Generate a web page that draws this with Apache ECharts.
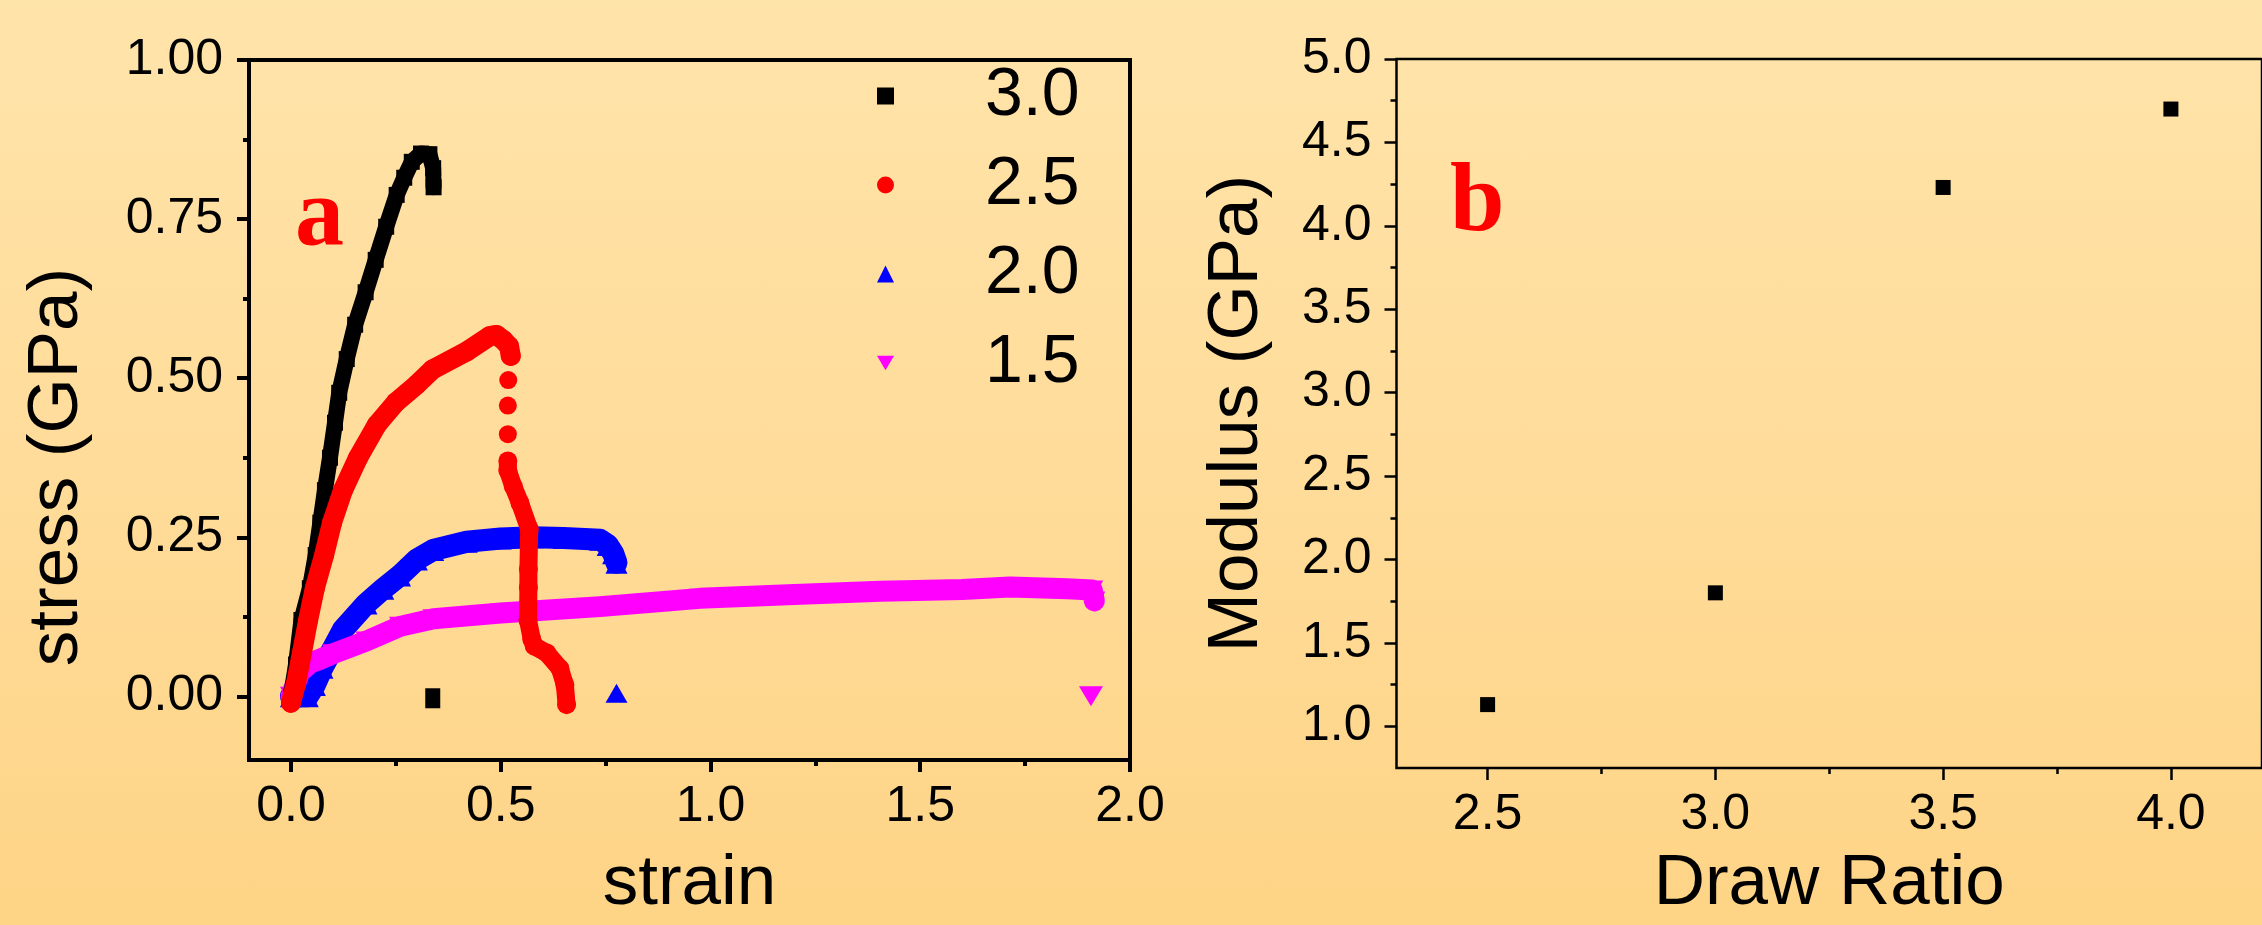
<!DOCTYPE html>
<html>
<head>
<meta charset="utf-8">
<script src="https://cdn.jsdelivr.net/npm/echarts@6/dist/echarts.min.js"></script>
<style>
html,body{margin:0;padding:0;}
#c{width:2262px;height:925px;background:linear-gradient(to bottom,#FFE4AA 0%,#FFDC9A 50%,#FED486 100%);}
</style>
</head>
<body>
<div id="c"></div>
<script>
// ---- data ----
const legendNames = ['3.0', '2.5', '2.0', '1.5'];

// draw ratio 3.0 (black)
const curve30 = [[0,0],[0.012,0.05],[0.025,0.12],[0.045,0.17],[0.059,0.222],[0.07,0.273],[0.081,0.324],[0.093,0.375],[0.105,0.43],[0.115,0.477],[0.133,0.53],[0.153,0.584],[0.178,0.635],[0.202,0.686],[0.227,0.738],[0.252,0.788],[0.27,0.815],[0.288,0.84],[0.31,0.853],[0.33,0.852],[0.339,0.83],[0.34,0.80]];
const break30 = [[0.338,-0.003]];

// draw ratio 2.5 (red)
const curve25a = [[0,-0.01],[0.012,0.02],[0.026,0.068],[0.041,0.12],[0.057,0.17],[0.079,0.222],[0.098,0.273],[0.124,0.324],[0.16,0.375],[0.205,0.427],[0.25,0.462],[0.3,0.49],[0.338,0.514],[0.419,0.542],[0.474,0.566],[0.49,0.568],[0.506,0.56],[0.52,0.55],[0.524,0.535]];
const curve25dots = [[0.518,0.497],[0.517,0.457],[0.517,0.412]];
const curve25b = [[0.517,0.37],[0.517,0.355],[0.53,0.33],[0.546,0.304],[0.568,0.263],[0.566,0.2],[0.566,0.171],[0.565,0.12],[0.574,0.09],[0.58,0.079],[0.61,0.068],[0.641,0.044],[0.653,0.018],[0.657,-0.013]];

// draw ratio 2.0 (blue)
const curve20 = [[0,0],[0.04,0],[0.057,0.018],[0.075,0.045],[0.1,0.075],[0.124,0.105],[0.18,0.146],[0.22,0.169],[0.26,0.19],[0.3,0.215],[0.339,0.23],[0.419,0.243],[0.5,0.248],[0.577,0.25],[0.65,0.249],[0.737,0.246],[0.755,0.238],[0.768,0.225],[0.776,0.21]];
const break20 = [[0.776,0.005]];

// draw ratio 1.5 (magenta)
const curve15 = [[0,0],[0.021,0.038],[0.045,0.052],[0.061,0.056],[0.1,0.067],[0.18,0.087],[0.26,0.11],[0.34,0.122],[0.5,0.131],[0.737,0.141],[0.975,0.154],[1.2,0.16],[1.405,0.165],[1.6,0.168],[1.714,0.172],[1.85,0.169],[1.91,0.167],[1.915,0.15]];
const break15 = [[1.907,0.0]];

// panel b
const drawRatio = [2.5, 3.0, 3.5, 4.0];
const modulus = [1.13, 1.80, 4.23, 4.70];

// ticks
const strainTicks = [0, 0.5, 1.0, 1.5, 2.0];
const strainMinor = [0.25, 0.75, 1.25, 1.75];
const stressTicks = [0, 0.25, 0.5, 0.75, 1.0];
const stressMinor = [0.125, 0.375, 0.625, 0.875];
const ratioTicks = [2.5, 3.0, 3.5, 4.0];
const ratioMinor = [2.75, 3.25, 3.75];
const modTicks = [1.0, 1.5, 2.0, 2.5, 3.0, 3.5, 4.0, 4.5, 5.0];
const modMinor = [1.25, 1.75, 2.25, 2.75, 3.25, 3.75, 4.25, 4.75];

// ---- chart ----
const SANS = '"Liberation Sans", Arial, sans-serif';
const SERIF = '"Liberation Serif", "Times New Roman", serif';
const downTri = 'path://M0,0 L20,0 L10,17 Z';

function mainX(grid, min, max, ticks, fmt, w, name, gap) {
  return {
    type: 'value', gridIndex: grid, position: 'bottom', min: min, max: max,
    axisLine: { show: false, onZero: false },
    axisTick: { show: true, customValues: ticks, length: 12, lineStyle: { color: '#000', width: w } },
    axisLabel: { show: true, customValues: ticks, formatter: v => v.toFixed(fmt), fontSize: 50, fontFamily: SANS, color: '#000', margin: 22 },
    splitLine: { show: false },
    name: name, nameLocation: 'middle', nameGap: gap,
    nameTextStyle: { fontSize: 71, fontFamily: SANS, color: '#000' }
  };
}
function minorX(grid, min, max, ticks, w) {
  return {
    type: 'value', gridIndex: grid, position: 'bottom', min: min, max: max,
    axisLine: { show: false, onZero: false },
    axisTick: { show: true, customValues: ticks, length: 6, lineStyle: { color: '#000', width: w } },
    axisLabel: { show: false }, splitLine: { show: false }
  };
}
function mainY(grid, min, max, ticks, fmt, w, margin, name, gap) {
  return {
    type: 'value', gridIndex: grid, position: 'left', min: min, max: max,
    axisLine: { show: false, onZero: false },
    axisTick: { show: true, customValues: ticks, length: 12, lineStyle: { color: '#000', width: w } },
    axisLabel: { show: true, customValues: ticks, formatter: v => v.toFixed(fmt), fontSize: 50, fontFamily: SANS, color: '#000', margin: margin },
    splitLine: { show: false },
    name: name, nameLocation: 'middle', nameGap: gap,
    nameTextStyle: { fontSize: 71, fontFamily: SANS, color: '#000' }
  };
}
function minorY(grid, min, max, ticks, w) {
  return {
    type: 'value', gridIndex: grid, position: 'left', min: min, max: max,
    axisLine: { show: false, onZero: false },
    axisTick: { show: true, customValues: ticks, length: 6, lineStyle: { color: '#000', width: w } },
    axisLabel: { show: false }, splitLine: { show: false }
  };
}
function curve(name, data, color, symbol, size, width, z) {
  return {
    type: 'line', name: name, xAxisIndex: 0, yAxisIndex: 0, data: data, z: z,
    showSymbol: true, showAllSymbol: true, symbol: symbol, symbolSize: size,
    itemStyle: { color: color, opacity: 1 }, lineStyle: { color: color, width: width, cap: 'round', join: 'round', opacity: 1 },
    silent: true, animation: false, emphasis: { disabled: true }
  };
}
function pts(name, data, color, symbol, size, z, xi, yi) {
  return {
    type: 'scatter', name: name, xAxisIndex: xi, yAxisIndex: yi, data: data, z: z,
    symbol: symbol, symbolSize: size, itemStyle: { color: color, opacity: 1 },
    silent: true, animation: false, emphasis: { disabled: true }
  };
}

const chart = echarts.init(document.getElementById('c'), null, { renderer: 'canvas' });
chart.setOption({
  backgroundColor: 'transparent',
  animation: false,
  grid: [
    { left: 249, right: 1132, top: 60, bottom: 148, show: true, borderColor: '#000', borderWidth: 4, backgroundColor: 'transparent' },
    { left: 1396.5, right: -11, top: 59, bottom: 154, show: true, borderColor: '#000', borderWidth: 2.5, backgroundColor: 'transparent' }
  ],
  xAxis: [
    mainX(0, -0.1, 2.0, strainTicks, 1, 4, 'strain', 89),
    minorX(0, -0.1, 2.0, strainMinor, 4),
    mainX(1, 2.3, 4.2, ratioTicks, 1, 2.5, 'Draw Ratio', 81),
    minorX(1, 2.3, 4.2, ratioMinor, 2.5)
  ],
  yAxis: [
    mainY(0, -0.1, 1.0, stressTicks, 2, 4, 26, '', 0),
    minorY(0, -0.1, 1.0, stressMinor, 4),
    mainY(1, 0.75, 5.0, modTicks, 1, 2.5, 25, 'Modulus (GPa)', 124),
    minorY(1, 0.75, 5.0, modMinor, 2.5)
  ],
  legend: {
    orient: 'vertical', left: 872, top: 57, itemWidth: 17, itemHeight: 17, itemGap: 21,
    selectedMode: false,
    data: [
      { name: legendNames[0], icon: 'rect' },
      { name: legendNames[1], icon: 'circle' },
      { name: legendNames[2], icon: 'triangle' },
      { name: legendNames[3], icon: downTri }
    ],
    textStyle: { fontSize: 68, lineHeight: 68, fontFamily: SANS, color: '#000', padding: [0, 0, 0, 86] }
  },
  graphic: [
    { type: 'text', x: 57, y: 467, rotation: Math.PI / 2, silent: true,
      style: { text: 'stress (GPa)', fontSize: 71, fontFamily: SANS, fill: '#000', textAlign: 'center', textVerticalAlign: 'middle', align: 'center', verticalAlign: 'middle' } },
    { type: 'text', x: 295, y: 219, silent: true,
      style: { text: 'a', fontSize: 98, fontWeight: 'bold', fontFamily: SERIF, fill: '#FF0000', textVerticalAlign: 'middle', verticalAlign: 'middle' } },
    { type: 'text', x: 1450, y: 205, silent: true,
      style: { text: 'b', fontSize: 98, fontWeight: 'bold', fontFamily: SERIF, fill: '#FF0000', textVerticalAlign: 'middle', verticalAlign: 'middle' } }
  ],
  series: [
    curve(legendNames[2], curve20, '#0000FF', 'triangle', 22, 22, 2),
    pts(legendNames[2], break20, '#0000FF', 'triangle', [22, 19], 2, 0, 0),
    curve(legendNames[3], curve15, '#FF00FF', downTri, [22, 19], 21, 3),
    pts(legendNames[3], break15, '#FF00FF', downTri, [24, 20], 3, 0, 0),
    curve(legendNames[0], curve30, '#000000', 'rect', 16, 16, 4),
    pts(legendNames[0], break30, '#000000', 'rect', [15, 20], 4, 0, 0),
    curve(legendNames[1], curve25a, '#FF0000', 'circle', 20, 20, 5),
    pts(legendNames[1], curve25dots, '#FF0000', 'circle', 18, 5, 0, 0),
    curve(legendNames[1], curve25b, '#FF0000', 'circle', 19, 18, 5),
    pts('Modulus', drawRatio.map((d, i) => [d, modulus[i]]), '#000000', 'rect', 15, 6, 2, 2)
  ]
});
</script>
</body>
</html>
